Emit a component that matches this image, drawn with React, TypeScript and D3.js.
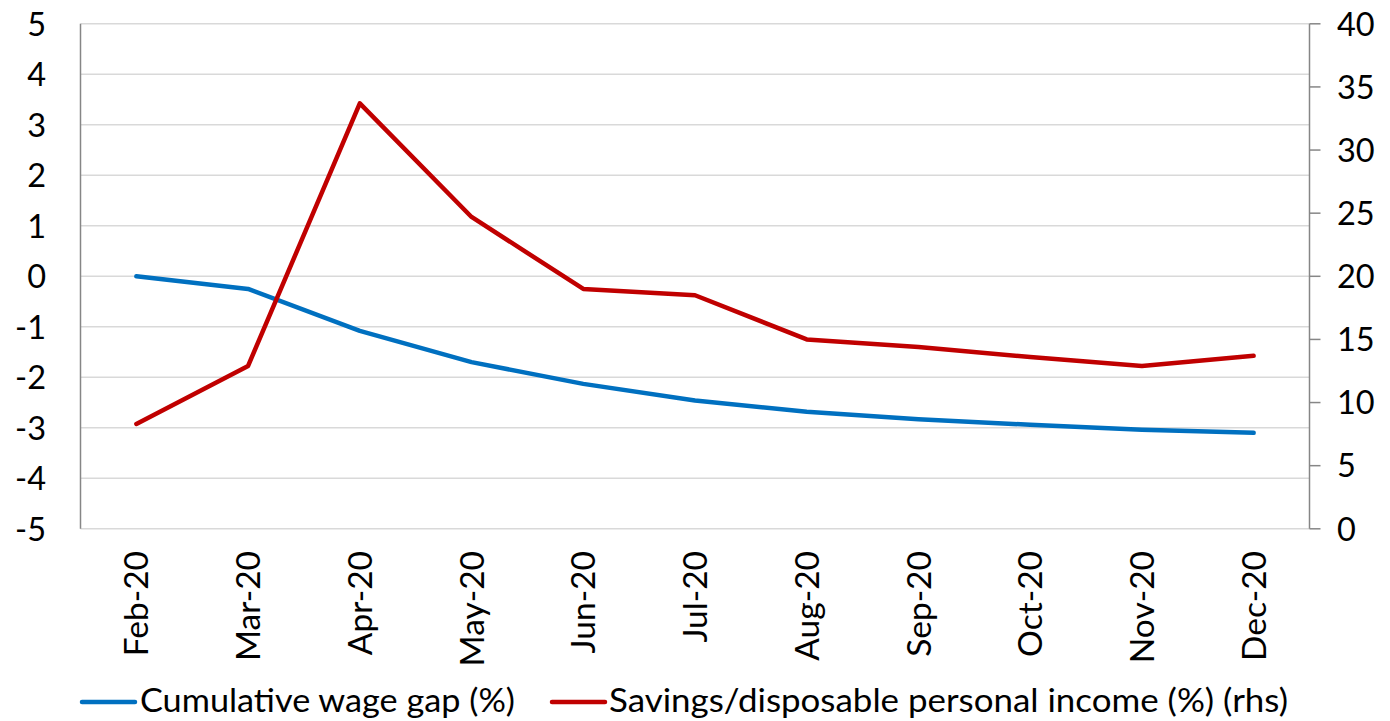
import React from "react";
import * as d3 from "d3";

const months = ["Feb-20", "Mar-20", "Apr-20", "May-20", "Jun-20", "Jul-20", "Aug-20", "Sep-20", "Oct-20", "Nov-20", "Dec-20"];
const wageGap = [0, -0.25, -1.08, -1.7, -2.13, -2.46, -2.68, -2.83, -2.94, -3.04, -3.1];
const savings = [8.3, 12.9, 33.7, 24.7, 19.0, 18.5, 15.0, 14.4, 13.6, 12.9, 13.7];
const leftTicks = [5, 4, 3, 2, 1, 0, -1, -2, -3, -4, -5];
const rightTicks = [0, 5, 10, 15, 20, 25, 30, 35, 40];
const seriesNames = ["Cumulative wage gap (%)", "Savings/disposable personal income (%) (rhs)"];

const W = 1390;
const H = 721;
const L = 80.5;
const R = 1309.5;
const T = 23.8;
const B = 528.8;
const FONT = "Lato, 'Open Sans', sans-serif";
const BLUE = "#0070C0";
const RED = "#C00000";
const FS = 32.5;

export default function App() {
  const x = d3.scaleBand<string>().domain(months).range([L, R]);
  const yL = d3.scaleLinear().domain([-5, 5]).range([B, T]);
  const yR = d3.scaleLinear().domain([0, 40]).range([B, T]);
  const cx = (m: string) => (x(m) as number) + x.bandwidth() / 2;

  const lineL = d3.line<number>().x((_, i) => cx(months[i])).y((d) => yL(d));
  const lineR = d3.line<number>().x((_, i) => cx(months[i])).y((d) => yR(d));

  return (
    <svg width={W} height={H} style={{ position: "absolute", left: 0, top: 0, background: "#fff" }} fontFamily={FONT}>
      {leftTicks.map((t) => (
        <line key={"g" + t} x1={L} x2={R} y1={yL(t)} y2={yL(t)} stroke="#d9d9d9" strokeWidth={1.5} />
      ))}
      <line x1={L} x2={L} y1={T} y2={B} stroke="#868686" strokeWidth={1.5} />
      <line x1={R} x2={R} y1={T} y2={B} stroke="#868686" strokeWidth={1.5} />
      {rightTicks.map((t) => (
        <line key={"rt" + t} x1={R} x2={R + 11} y1={yR(t)} y2={yR(t)} stroke="#868686" strokeWidth={1.5} />
      ))}
      {leftTicks.map((t) => (
        <text key={"lt" + t} x={46} y={yL(t)} dy="0.36em" textAnchor="end" fontSize={FS} fill="#000">
          {t}
        </text>
      ))}
      {rightTicks.map((t) => (
        <text key={"rl" + t} x={1337} y={yR(t)} dy="0.36em" textAnchor="start" fontSize={FS} fill="#000">
          {t}
        </text>
      ))}
      {months.map((m) => (
        <text
          key={m}
          transform={`translate(${cx(m)},551) rotate(-90)`}
          dy="0.36em"
          textAnchor="end"
          fontSize={FS + 1}
          fill="#000"
        >
          {m}
        </text>
      ))}
      <path d={lineL(wageGap) || ""} fill="none" stroke={BLUE} strokeWidth={4.5} strokeLinejoin="round" strokeLinecap="round" />
      <path d={lineR(savings) || ""} fill="none" stroke={RED} strokeWidth={4.5} strokeLinejoin="round" strokeLinecap="round" />
      <line x1={82} x2={135} y1={702} y2={702} stroke={BLUE} strokeWidth={4.5} strokeLinecap="round" />
      <text x={140} y={712} fontSize={FS} fill="#000" textLength={375} lengthAdjust="spacingAndGlyphs">{seriesNames[0]}</text>
      <line x1={552} x2={605} y1={702} y2={702} stroke={RED} strokeWidth={4.5} strokeLinecap="round" />
      <text x={609} y={712} fontSize={FS} fill="#000" textLength={679} lengthAdjust="spacingAndGlyphs">{seriesNames[1]}</text>
    </svg>
  );
}
